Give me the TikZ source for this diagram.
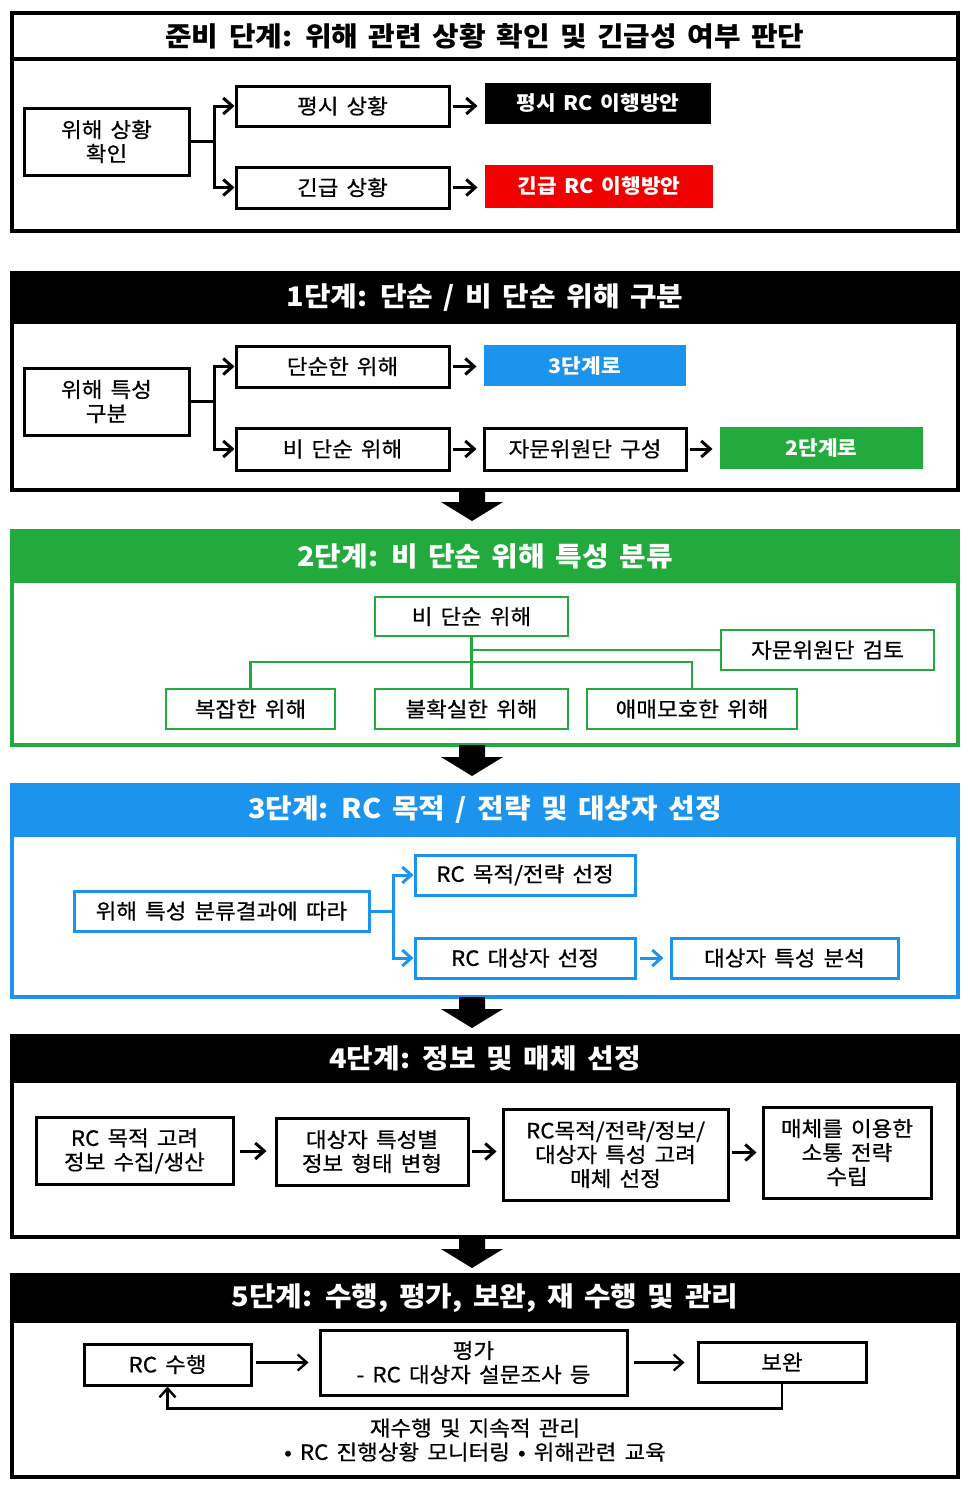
\documentclass[tikz,border=0pt]{standalone}
\usepackage{fontspec}
\setmainfont{Noto Sans CJK KR}[WordSpace=1.6, FakeStretch=1.07, UprightFeatures={FakeBold=0.6}]
\usepackage{tikz}
\usetikzlibrary{arrows.meta,calc,positioning}
\definecolor{stgreen}{RGB}{34,170,60}
\definecolor{stblue}{RGB}{28,148,238}
\definecolor{stred}{RGB}{240,0,0}
\tikzstyle{box}=[draw=black, line width=3pt, fill=white, inner sep=0pt, align=center, font=\fontsize{21}{24}\selectfont]
\tikzstyle{gbox}=[box, draw=stgreen, line width=2.5pt]
\tikzstyle{bbox}=[box, draw=stblue]
\tikzstyle{fillbox}=[box, draw=none, text=white, font=\bfseries\fontsize{20}{24}\selectfont]
\tikzstyle{arr}=[line width=3pt, -{Straight Barb[length=9pt,width=16pt]}]
\tikzstyle{stagetitle}=[inner sep=0pt, font=\bfseries\fontsize{27}{32}\selectfont]
\newcommand{\stageframe}[8]{
	\fill[#2] (12,#4) rectangle (958,#5);
	\draw[line width=4pt, #1] (12,#4) rectangle (958,#6) (12,#5) -- (958,#5);
	\node[stagetitle, text=#3] (#7) at (485,{(#4+#5)/2}) {#8};
}

\begin{document}
\begin{tikzpicture}[x=1pt,y=-1pt]
	\useasboundingbox[fill=white] (0,0) rectangle (969,1488);
	\stageframe{black}{white}{black}{13}{59}{231}{t0}{준비 단계: 위해 관련 상황 확인 및 긴급성 여부 판단}
	\stageframe{black}{black}{white}{273}{322}{490}{t1}{1단계: 단순 / 비 단순 위해 구분}
	\stageframe{stgreen}{stgreen}{white}{531}{581}{745}{t2}{2단계: 비 단순 위해 특성 분류}
	\stageframe{stblue}{stblue}{white}{785}{835}{997}{t3}{3단계: RC 목적 / 전략 및 대상자 선정}
	\stageframe{black}{black}{white}{1036}{1081}{1237}{t4}{4단계: 정보 및 매체 선정}
	\stageframe{black}{black}{white}{1275}{1321}{1477}{t5}{5단계: 수행, 평가, 보완, 재 수행 및 관리}
	\foreach \ya in {490,745,997,1237}
		\fill (459,\ya) -- (485,\ya) -- (485,{\ya+12}) -- (503,{\ya+12}) -- (472,{\ya+31}) -- (441,{\ya+12}) -- (459,{\ya+12}) -- cycle;

	\node[box, minimum width=165, minimum height=67] (chk) at (106.5,141.5) {위해 상황\\확인};
	\node[box, minimum width=213, minimum height=40] (calm) at (342.5,106) {평시 상황};
	\node[box, minimum width=213, minimum height=41] (urg) at (342.5,187.5) {긴급 상황};
	\node[fillbox, fill=black, minimum width=226, minimum height=41] (calmrc) at (598,103.5) {평시 RC 이행방안};
	\node[fillbox, fill=stred, minimum width=228, minimum height=43] (urgrc) at (599,186.5) {긴급 RC 이행방안};
	\coordinate (b0) at ($(chk.east)+(24,0)$);
	\draw[line width=3pt] (chk.east) -- (b0);
	\draw[arr] (b0) |- (calm.west);
	\draw[arr] (b0) |- (urg.west);
	\draw[arr, shorten <=2pt, shorten >=6pt] (calm.east) -- (calm.east -| calmrc.west);
	\draw[arr, shorten <=2pt, shorten >=6pt] (urg.east) -- (urg.east -| urgrc.west);

	\node[box, minimum width=165, minimum height=67] (kind) at (106.5,401.5) {위해 특성\\구분};
	\node[box, minimum width=213, minimum height=41] (simp) at (342.5,366.5) {단순한 위해};
	\node[box, minimum width=213, minimum height=42] (nons) at (342.5,449) {비 단순 위해};
	\node[fillbox, fill=stblue, minimum width=202, minimum height=41] (to3) at (585,365.5) {3단계로};
	\node[box, minimum width=202, minimum height=42] (panel) at (585,449) {자문위원단 구성};
	\node[fillbox, fill=stgreen, minimum width=203, minimum height=42] (to2) at (821.5,448) {2단계로};
	\coordinate (b1) at ($(kind.east)+(24,0)$);
	\draw[line width=3pt] (kind.east) -- (b1);
	\draw[arr] (b1) |- (simp.west);
	\draw[arr] (b1) |- (nons.west);
	\draw[arr, shorten <=2pt, shorten >=6pt] (simp.east) -- (simp.east -| to3.west);
	\draw[arr, shorten <=2pt, shorten >=6pt] (nons.east) -- (panel.west);
	\draw[arr, shorten <=2pt, shorten >=6pt] (panel.east) -- (panel.east -| to2.west);

	\node[gbox, minimum width=193, minimum height=39] (nons2) at (471.5,616.5) {비 단순 위해};
	\node[gbox, minimum width=213, minimum height=40] (rev) at (827.5,650) {자문위원단 검토};
	\node[gbox, minimum width=169, minimum height=40] (cplx) at (250.5,709) {복잡한 위해};
	\node[gbox, minimum width=193, minimum height=40] (unc) at (471.5,709) {불확실한 위해};
	\node[gbox, minimum width=210, minimum height=40] (amb) at (692,709) {애매모호한 위해};
	\draw[stgreen, line width=2.5pt] (nons2.south) -- (unc.north);
	\draw[stgreen, line width=2.5pt] (rev.west) -- (rev.west -| nons2.south);
	\draw[stgreen, line width=2.5pt] (cplx.north) -- ++(0,-26) -| (amb.north);

	\node[bbox, minimum width=295, minimum height=40] (res) at (221.5,911) {위해 특성 분류결과에 따라};
	\node[bbox, minimum width=220, minimum height=40] (goal) at (525,875) {RC 목적/전략 선정};
	\node[bbox, minimum width=220, minimum height=40] (aud) at (525,958) {RC 대상자 선정};
	\node[bbox, minimum width=227, minimum height=40] (anal) at (784.5,958) {대상자 특성 분석};
	\coordinate (b3) at ($(res.east)+(23,0)$);
	\draw[stblue, line width=3pt] (res.east) -- (b3);
	\draw[arr, stblue] (b3) |- (goal.west);
	\draw[arr, stblue] (b3) |- (aud.west);
	\draw[arr, stblue, shorten <=3pt, shorten >=6pt] (aud.east) -- (anal.west);

	\node[box, minimum width=197, minimum height=67] (c1) at (134.5,1151) {RC 목적 고려\\정보 수집/생산};
	\node[box, minimum width=192, minimum height=67] (c2) at (372,1151.5) {대상자 특성별\\정보 형태 변형};
	\node[box, minimum width=225, minimum height=91] (c3) at (615.5,1154.5) {RC목적/전략/정보/\\대상자 특성 고려\\매체 선정};
	\node[box, minimum width=168, minimum height=91] (c4) at (847,1152.5) {매체를 이용한\\소통 전략\\수립};
	\draw[arr, shorten <=5pt, shorten >=8pt] (c1.east) -- (c1.east -| c2.west);
	\draw[arr, shorten <=2pt, shorten >=5pt] (c2.east) -- (c2.east -| c3.west);
	\draw[arr, shorten <=2pt, shorten >=5pt] (c3.east |- c4.west) -- (c4.west);

	\node[box, minimum width=167, minimum height=41] (run) at (167.5,1364.5) {RC 수행};
	\node[box, minimum width=307, minimum height=65] (eval) at (473.5,1362.5) {평가\\- RC 대상자 설문조사 등};
	\node[box, minimum width=168, minimum height=40] (fix) at (782,1362) {보완};
	\draw[arr, line width=2.4pt, shorten <=3pt, shorten >=10pt] (run.east |- eval.west) -- (eval.west);
	\draw[arr, line width=2.4pt, shorten <=5pt, shorten >=12pt] (eval.east) -- (eval.east -| fix.west);
	\draw[arr, line width=2.4pt] (fix.south) -- ++(0,25) -| (run.south);
	\node[align=center, inner sep=0pt, font=\fontsize{21}{24}\selectfont] (mgmt) at (475,1440) {재수행 및 지속적 관리\\• RC 진행상황 모니터링 • 위해관련 교육};
\end{tikzpicture}
\end{document}
